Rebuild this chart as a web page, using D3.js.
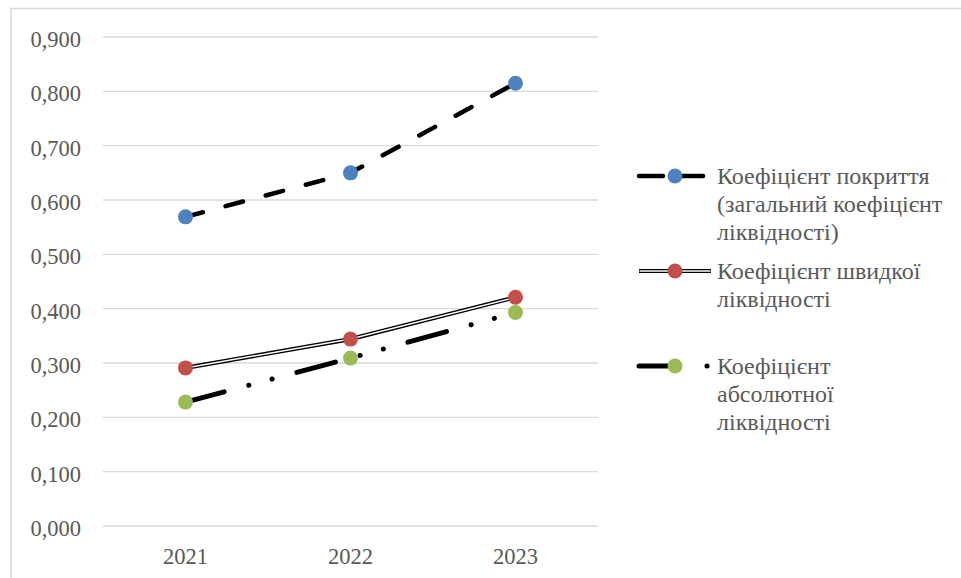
<!DOCTYPE html>
<html><head><meta charset="utf-8">
<script src="https://cdn.jsdelivr.net/npm/d3@7/dist/d3.min.js"></script>
<style>
svg text { font-family: "Liberation Serif" !important; }
</style>
</head>
<body style="margin:0;padding:0;background:#fff;"><svg id="c" width="961" height="578" style="display:block;"></svg>
<script>
const years = ["2021","2022","2023"];
const coverage = [0.569, 0.650, 0.815];
const quick = [0.291, 0.344, 0.421];
const absolute = [0.228, 0.309, 0.393];
const yTicks = [0,0.1,0.2,0.3,0.4,0.5,0.6,0.7,0.8,0.9];
const seriesNames = [
  ["Коефіцієнт покриття","(загальний коефіцієнт","ліквідності)"],
  ["Коефіцієнт швидкої","ліквідності"],
  ["Коефіцієнт","абсолютної","ліквідності"]
];
const colors = ["#4f81bd","#c0504d","#9bbb59"];

const FONT = "Liberation Serif";
const svg = d3.select("#c");
const textColor = "#595959";

// outer frame
svg.append("rect").attr("x",11).attr("y",8.5).attr("width",1000).attr("height",600)
  .attr("fill","none").attr("stroke","#d9d9d9").attr("stroke-width",1.5);

const x = d3.scaleBand().domain(years).range([103,598]).paddingInner(0).paddingOuter(0);
const y = d3.scaleLinear().domain([0,0.9]).range([526,37]);
const fmt = v => d3.format(".3f")(v).replace(".", ",");

// gridlines
svg.append("g").selectAll("line").data(yTicks).join("line")
  .attr("x1",103).attr("x2",598)
  .attr("y1",d=>y(d)).attr("y2",d=>y(d))
  .attr("stroke","#d9d9d9").attr("stroke-width",1.3);

// y axis labels
const yAxis = d3.axisLeft(y).tickValues(yTicks).tickFormat(fmt).tickSize(0).tickPadding(0);
const gy = svg.append("g").attr("transform","translate(81,0)").call(yAxis);
gy.select(".domain").remove();
gy.attr("font-family",FONT).attr("font-size",22.5);
gy.selectAll("text").attr("dy",9.4).attr("fill",textColor)
  .attr("font-family",FONT).attr("font-size",22.5);

// x axis labels
const xAxis = d3.axisBottom(x).tickSize(0).tickPadding(0);
const gx = svg.append("g").attr("transform","translate(0,564)").call(xAxis);
gx.select(".domain").remove();
gx.attr("font-family",FONT).attr("font-size",22.5);
gx.selectAll("text").attr("y",0).attr("dy",0).attr("fill",textColor)
  .attr("font-family",FONT).attr("font-size",22.5);

const cx = d => x(d) + x.bandwidth()/2;
const line = d3.line().x(d=>cx(d[0])).y(d=>y(d[1]));
const pts = vals => years.map((yr,i)=>[yr, vals[i]]);

// series 1: dashed thick
svg.append("path").attr("d", line(pts(coverage))).attr("fill","none")
  .attr("stroke","#000").attr("stroke-width",4.5).attr("stroke-linecap","round")
  .attr("stroke-dasharray","18,23.5");
// series 2: double line
svg.append("path").attr("d", line(pts(quick))).attr("fill","none")
  .attr("stroke","#000").attr("stroke-width",4.2);
svg.append("path").attr("d", line(pts(quick))).attr("fill","none")
  .attr("stroke","#fff").attr("stroke-width",1.5);
// series 3: long dash dot dot
svg.append("path").attr("d", line(pts(absolute))).attr("fill","none")
  .attr("stroke","#000").attr("stroke-width",5).attr("stroke-linecap","round")
  .attr("stroke-dasharray","40,25.5,0.1,24,0.1,25.5");

// markers
[coverage, quick, absolute].forEach((vals,i)=>{
  svg.append("g").selectAll("circle").data(pts(vals)).join("circle")
    .attr("cx",d=>cx(d[0])).attr("cy",d=>y(d[1])).attr("r",7.5)
    .attr("fill",colors[i]);
});

// legend
const legY = [176, 271, 366];
svg.append("line").attr("x1",639).attr("x2",663).attr("y1",legY[0]).attr("y2",legY[0])
  .attr("stroke","#000").attr("stroke-width",4.5).attr("stroke-linecap","round");
svg.append("line").attr("x1",681).attr("x2",703).attr("y1",legY[0]).attr("y2",legY[0])
  .attr("stroke","#000").attr("stroke-width",4.5).attr("stroke-linecap","round");
svg.append("line").attr("x1",639).attr("x2",711).attr("y1",legY[1]).attr("y2",legY[1])
  .attr("stroke","#000").attr("stroke-width",4.2);
svg.append("line").attr("x1",639.5).attr("x2",710.5).attr("y1",legY[1]).attr("y2",legY[1])
  .attr("stroke","#fff").attr("stroke-width",1.5);
svg.append("line").attr("x1",639).attr("x2",711).attr("y1",legY[2]).attr("y2",legY[2])
  .attr("stroke","#000").attr("stroke-width",5).attr("stroke-linecap","round")
  .attr("stroke-dasharray","40,28,0.1,50");
legY.forEach((ly,i)=>{
  svg.append("circle").attr("cx",675).attr("cy",ly).attr("r",7.5).attr("fill",colors[i]);
  seriesNames[i].forEach((s,j)=>{
    svg.append("text").attr("x",717).attr("y",ly+8.3+j*27.8).attr("fill",textColor)
      .attr("font-family",FONT).attr("font-size",24).text(s);
  });
});
</script></body></html>
